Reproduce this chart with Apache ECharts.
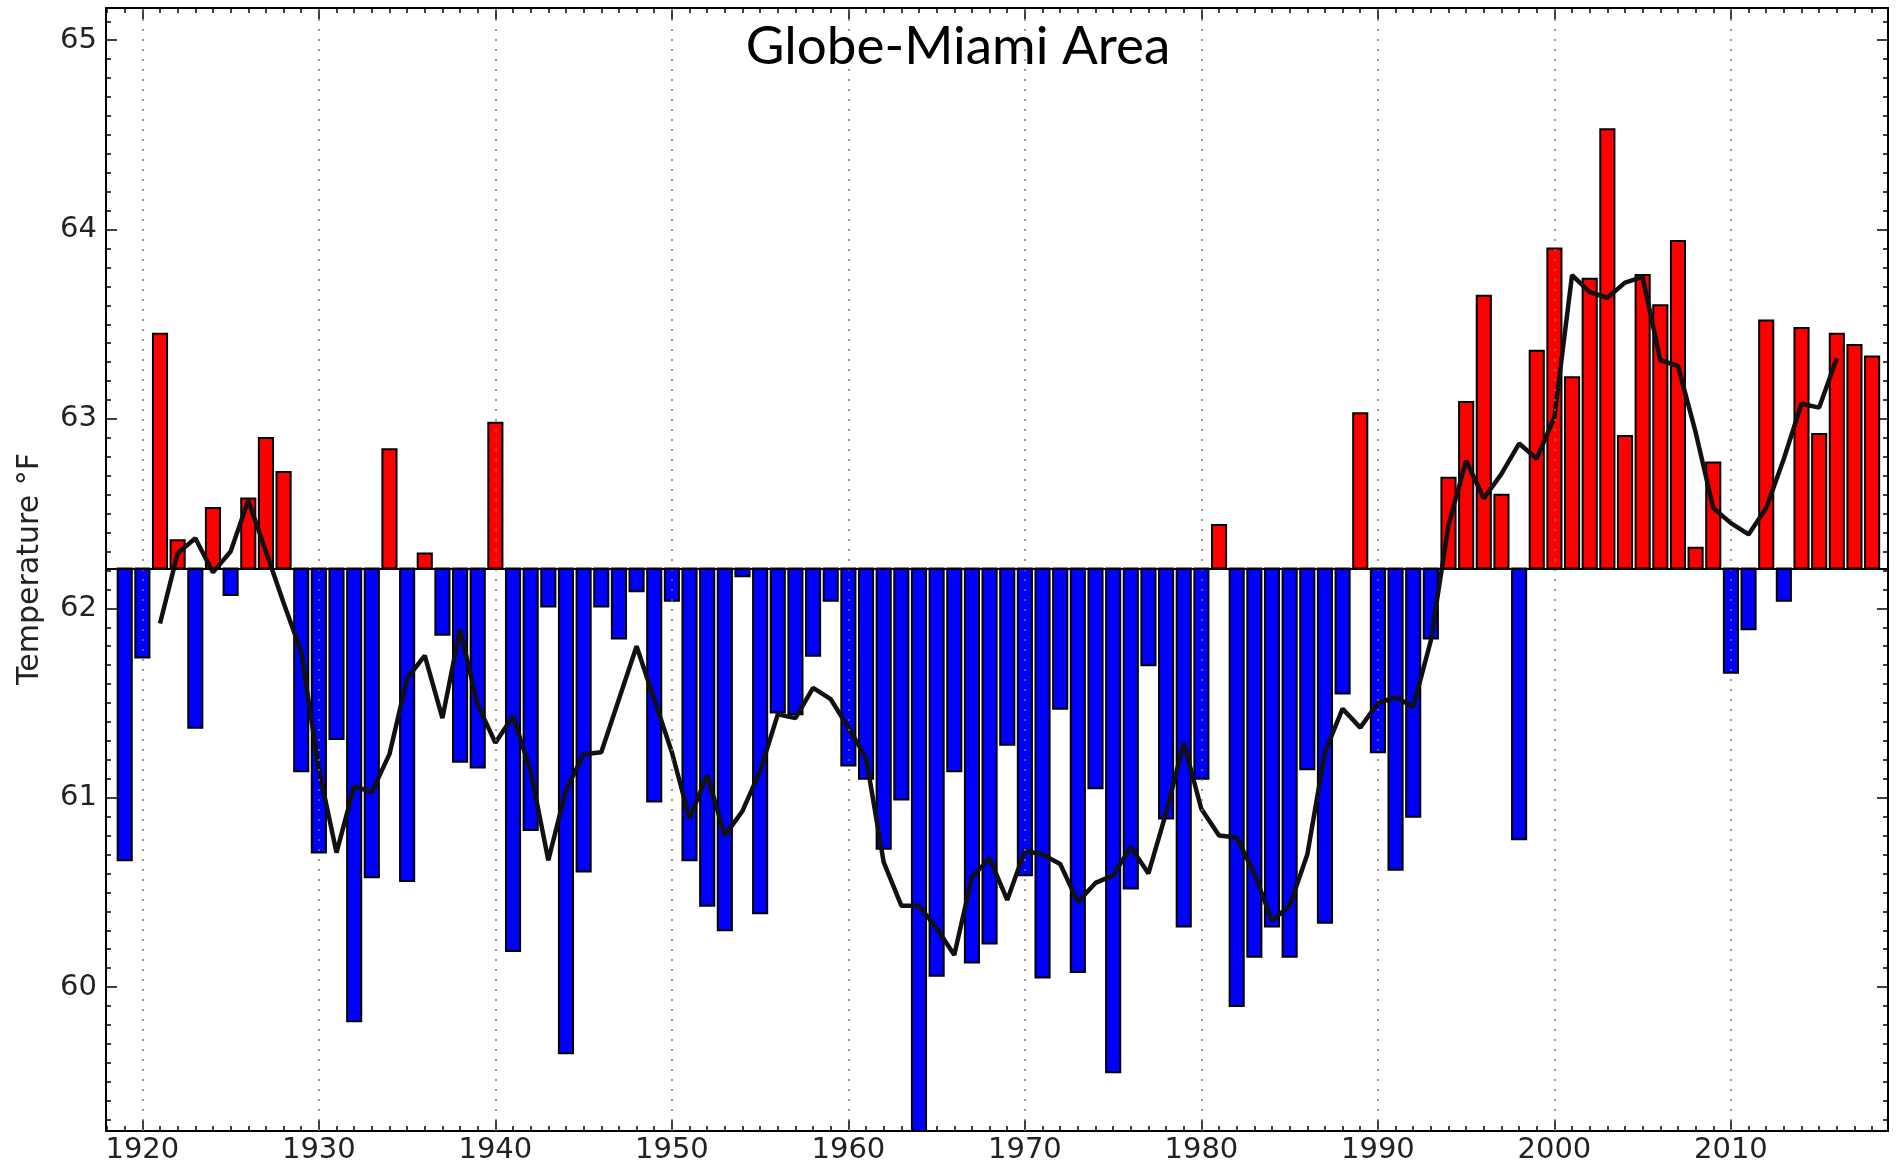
<!DOCTYPE html>
<html>
<head>
<meta charset="utf-8">
<title>Globe-Miami Area</title>
<script src="https://cdn.jsdelivr.net/npm/echarts@6/dist/echarts.min.js"></script>
<style>
  html, body { margin: 0; padding: 0; background: #fff; }
  #chart { width: 1898px; height: 1169px; }
</style>
</head>
<body>
<div id="chart"></div>
<script>
// annual mean temperature, one value per year starting at firstYear
const firstYear = 1919;
const temps = [
  60.67, 61.74, 63.45, 62.36, 61.37, 62.53, 62.07, 62.58, 62.90, 62.72, // 1919-1928
  61.14, 60.71, 61.31, 59.82, 60.58, 62.84, 60.56, 62.29, 61.86, 61.19, // 1929-1938
  61.16, 62.98, 60.19, 60.83, 62.01, 59.65, 60.61, 62.01, 61.84, 62.09, // 1939-1948
  60.98, 62.04, 60.67, 60.43, 60.30, 62.17, 60.39, 61.45, 61.44, 61.75, // 1949-1958
  62.04, 61.17, 61.10, 60.73, 60.99, 59.24, 60.06, 61.14, 60.13, 60.23, // 1959-1968
  61.28, 60.59, 60.05, 61.47, 60.08, 61.05, 59.55, 60.52, 61.70, 60.89, // 1969-1978
  60.32, 61.10, 62.44, 59.90, 60.16, 60.32, 60.16, 61.15, 60.34, 61.55, // 1979-1988
  63.03, 61.24, 60.62, 60.90, 61.84, 62.69, 63.09, 63.65, 62.60, 60.78, // 1989-1998
  63.36, 63.90, 63.22, 63.74, 64.53, 62.91, 63.76, 63.60, 63.94, 62.32, // 1999-2008
  62.77, 61.66, 61.89, 63.52, 62.04, 63.48, 62.92, 63.45, 63.39, 63.33  // 2009-2018
];

// smoothed curve (black line), one value per year starting at avgFirstYear
const avgFirstYear = 1921;
const avgTemps = [
  61.92, 62.29, 62.37, 62.19, 62.30, 62.57, 62.30, 62.03, 61.77, 61.15, // 1921-1930
  60.71, 61.06, 61.03, 61.23, 61.63, 61.75, 61.42, 61.89, 61.49, 61.29, // 1931-1940
  61.43, 61.14, 60.67, 61.04, 61.23, 61.24, 61.52, 61.80, 61.52, 61.24, // 1941-1950
  60.89, 61.12, 60.80, 60.93, 61.14, 61.44, 61.42, 61.58, 61.52, 61.37, // 1951-1960
  61.21, 60.66, 60.43, 60.43, 60.31, 60.17, 60.58, 60.68, 60.46, 60.72, // 1961-1970
  60.70, 60.65, 60.45, 60.55, 60.59, 60.74, 60.60, 60.92, 61.29, 60.94, // 1971-1980
  60.80, 60.79, 60.60, 60.35, 60.43, 60.70, 61.24, 61.47, 61.37, 61.50, // 1981-1990
  61.53, 61.48, 61.83, 62.44, 62.78, 62.58, 62.71, 62.87, 62.79, 63.01, // 1991-2000
  63.76, 63.67, 63.64, 63.72, 63.75, 63.31, 63.28, 62.93, 62.53, 62.45, // 2001-2010
  62.39, 62.53, 62.79, 63.08, 63.06, 63.32                              // 2011-2016
];

const baseline = 62.21;
const xTicks = [1920, 1930, 1940, 1950, 1960, 1970, 1980, 1990, 2000, 2010];
const yTicks = [60, 61, 62, 63, 64, 65];

const xMin = 1917.94, xMax = 2018.9;
const yMin = 59.24, yMax = 65.17;

// minor ticks: every year on x, every 0.1 on y
const xMinor = [];
for (let y = 1918; y <= 2018; y++) xMinor.push(y);
const yMinor = [];
for (let k = 593; k <= 651; k++) yMinor.push(k / 10);

const barData = temps.map((t, i) => [firstYear + i, t]);
const avgData = avgTemps.map((t, i) => [avgFirstYear + i, t]);

const BAR_HALF = 0.4;
const TEXT_FONT = 'DejaVu Sans';
const TEXT_COLOR = '#222';
const TICK_FONT_SIZE = 29;

const chart = echarts.init(document.getElementById('chart'));

const tickLine = { color: '#000', width: 1.5 };
const noLabel = { show: false };

function xAxisDef(pos, values, len, withLine, withLabel) {
  return {
    type: 'value', position: pos, min: xMin, max: xMax, gridIndex: 0,
    axisLine: { show: withLine, onZero: false, lineStyle: { color: '#000', width: 2 } },
    axisTick: { show: true, inside: true, length: len, customValues: values, lineStyle: tickLine },
    axisLabel: withLabel ? {
      customValues: values, formatter: v => String(v), margin: 5,
      fontFamily: TEXT_FONT, fontSize: TICK_FONT_SIZE, color: TEXT_COLOR
    } : noLabel,
    splitLine: { show: false }
  };
}

function yAxisDef(pos, values, len, withLine, withLabel) {
  return {
    type: 'value', position: pos, min: yMin, max: yMax, gridIndex: 0,
    axisLine: { show: withLine, onZero: false, lineStyle: { color: '#000', width: 2 } },
    axisTick: { show: true, inside: true, length: len, customValues: values, lineStyle: tickLine },
    axisLabel: withLabel ? {
      customValues: values, formatter: v => String(v), margin: 9,
      fontFamily: TEXT_FONT, fontSize: TICK_FONT_SIZE, color: TEXT_COLOR
    } : noLabel,
    splitLine: { show: false }
  };
}

const option = {
  animation: false,
  backgroundColor: '#fff',
  title: {
    text: 'Globe-Miami Area',
    left: 953,
    top: 15,
    textAlign: 'center',
    textStyle: { fontFamily: 'Lato', fontSize: 53, fontWeight: 'normal', color: '#000' }
  },
  graphic: [{
    type: 'text',
    x: 30,
    y: 569,
    rotation: Math.PI / 2,
    style: {
      text: 'Temperature °F',
      font: '30px "DejaVu Sans"',
      fill: TEXT_COLOR,
      align: 'center',
      verticalAlign: 'middle'
    }
  }],
  grid: { left: 106, right: 10, top: 8, bottom: 38, containLabel: false },
  xAxis: [
    xAxisDef('bottom', xTicks, 11, true, true),
    xAxisDef('bottom', xMinor, 5, false, false),
    xAxisDef('top', xTicks, 11, true, false),
    xAxisDef('top', xMinor, 5, false, false)
  ],
  yAxis: [
    yAxisDef('left', yTicks, 11, true, true),
    yAxisDef('left', yMinor, 5, false, false),
    yAxisDef('right', yTicks, 11, true, false),
    yAxisDef('right', yMinor, 5, false, false)
  ],
  series: [
    {
      type: 'custom',
      xAxisIndex: 0,
      yAxisIndex: 0,
      z: 2,
      clip: true,
      encode: { x: 0, y: 1 },
      data: barData,
      renderItem: function (params, api) {
        const year = api.value(0);
        const t = api.value(1);
        const p1 = api.coord([year - BAR_HALF, t]);
        const p2 = api.coord([year + BAR_HALF, baseline]);
        const rect = echarts.graphic.clipRectByRect({
          x: p1[0],
          y: Math.min(p1[1], p2[1]),
          width: p2[0] - p1[0],
          height: Math.abs(p2[1] - p1[1])
        }, {
          x: params.coordSys.x,
          y: params.coordSys.y,
          width: params.coordSys.width,
          height: params.coordSys.height
        });
        return rect && {
          type: 'rect',
          shape: rect,
          style: { fill: t >= baseline ? '#ff0000' : '#0000ff', stroke: '#000', lineWidth: 2 }
        };
      }
    },
    {
      // dotted year grid and the baseline, drawn over the bars
      type: 'line',
      xAxisIndex: 0,
      yAxisIndex: 0,
      z: 3,
      data: [],
      markLine: {
        silent: true,
        symbol: ['none', 'none'],
        label: { show: false },
        data: xTicks.map(v => ({
          xAxis: v,
          lineStyle: { color: '#777', width: 1.5, type: [2, 8] }
        })).concat([{
          yAxis: baseline,
          lineStyle: { color: '#000', width: 2.2, type: 'solid' }
        }])
      }
    },
    {
      type: 'line',
      xAxisIndex: 0,
      yAxisIndex: 0,
      z: 4,
      data: avgData,
      symbol: 'none',
      lineStyle: { color: '#111', width: 4.5 }
    }
  ]
};

chart.setOption(option);
window.addEventListener('resize', () => chart.resize());
</script>
</body>
</html>
